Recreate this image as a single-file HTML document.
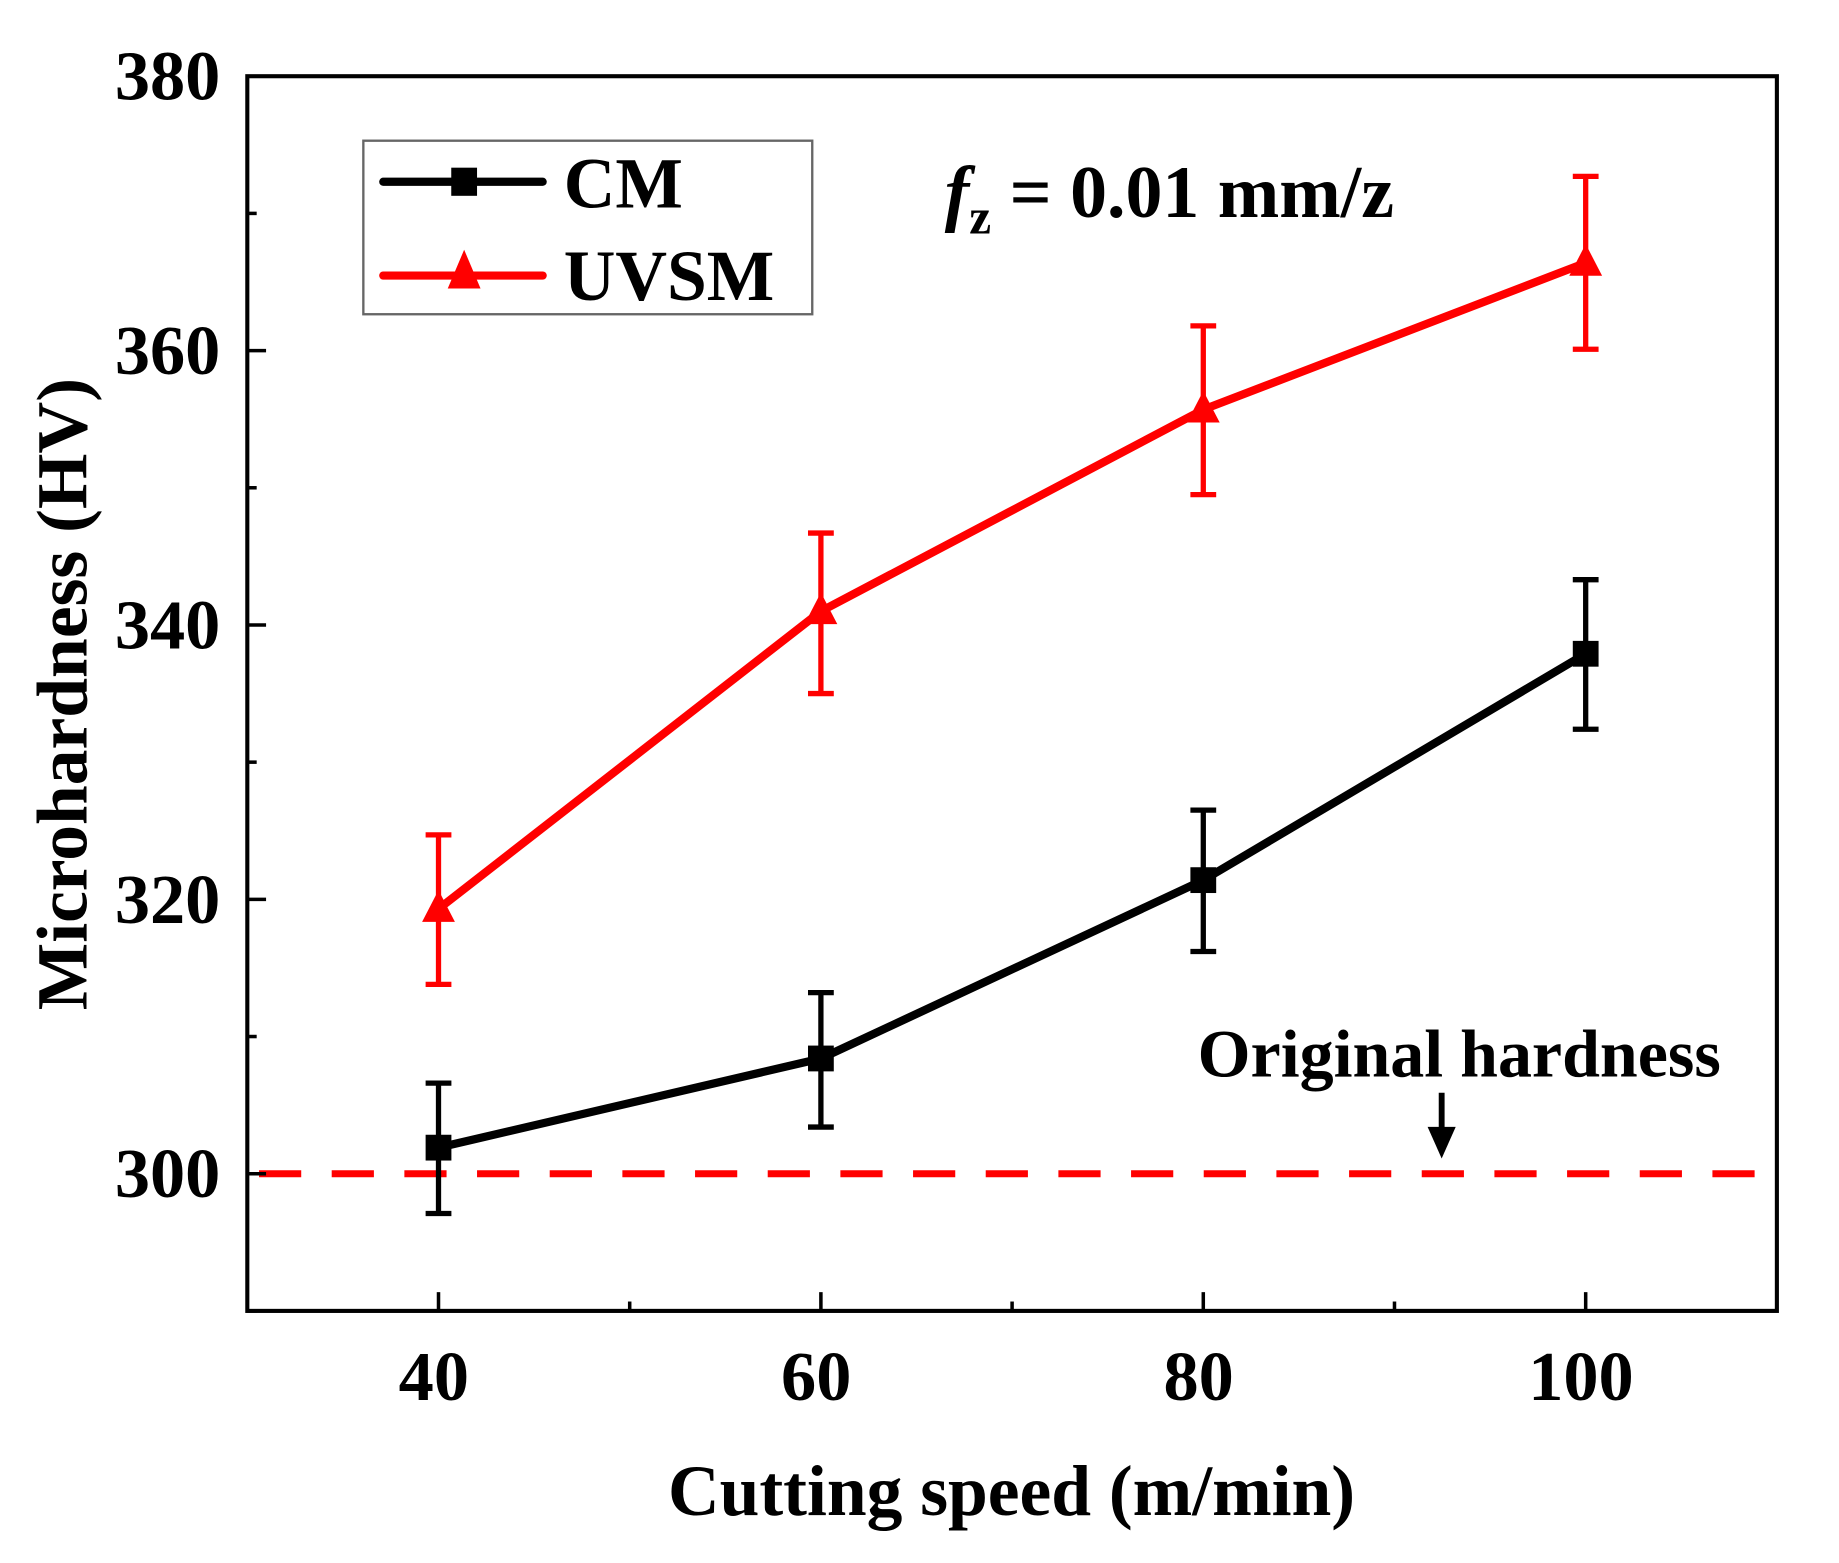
<!DOCTYPE html>
<html><head><meta charset="utf-8"><style>
html,body{margin:0;padding:0;background:#fff;}
svg{display:block;}
text{font-family:"Liberation Serif",serif;font-weight:bold;}
</style></head><body>
<svg id="chart" width="1839" height="1563" viewBox="0 0 1569 1333" preserveAspectRatio="none">
<g id="g"></g>
</svg>
<script>
const categories=[40,60,80,100];
const cmValues=[301.9,308.4,321.4,337.9];
const cmErrUp=[4.7,4.8,5.1,5.4];
const cmErrDown=[4.8,5.0,5.2,5.5];
const uvValues=[319.3,341.0,355.7,366.4];
const uvErrUp=[5.4,5.7,6.1,6.3];
const uvErrDown=[5.5,6.0,6.2,6.3];
const xTicks=[40,60,80,100];
const xMinor=[50,70,90];
const yTicks=[300,320,340,360,380];
const yMinor=[290,310,330,350,370];
const originalHardness=300;

const L=211,R=1516,T=65,B=1118;
const xs=v=>L+(v-30)/80*(R-L);
const ys=v=>B-(v-290)/90*(B-T);
const NS='http://www.w3.org/2000/svg';
const g=document.getElementById('g');
function el(tag,attrs,parent){const e=document.createElementNS(NS,tag);for(const k in attrs)e.setAttribute(k,attrs[k]);(parent||g).appendChild(e);return e;}

const ref=el('line',{x1:L+10,x2:R-14,y1:ys(originalHardness),y2:ys(originalHardness),stroke:'#ff0000','stroke-width':6,'stroke-dasharray':'36 26'});



const frame=el('rect',{x:L,y:T,width:R-L,height:B-T,fill:'none',stroke:'#000','stroke-width':3.5});



xTicks.forEach(v=>{
  const t=el('line',{x1:xs(v),x2:xs(v),y1:B,y2:B-16,stroke:'#000','stroke-width':3});
  
  
  const lb=el('text',{x:xs(v)-4,y:B+76,'text-anchor':'middle','font-size':60});
  lb.textContent=v;
  
  
});
xMinor.forEach(v=>{
  const t=el('line',{x1:xs(v),x2:xs(v),y1:B,y2:B-8,stroke:'#000','stroke-width':3});
  
  
});
yTicks.forEach(v=>{
  const t=el('line',{x1:L,x2:L+16,y1:ys(v),y2:ys(v),stroke:'#000','stroke-width':3});
  
  
  const lb=el('text',{x:L-23,y:ys(v)+20,'text-anchor':'end','font-size':60});
  lb.textContent=v;
  
  
});
yMinor.forEach(v=>{
  const t=el('line',{x1:L,x2:L+8,y1:ys(v),y2:ys(v),stroke:'#000','stroke-width':3});
  
  
});

function series(vals,up,down,color,marker,name){
  const pts=categories.map((c,i)=>xs(c)+','+ys(vals[i])).join(' ');
  const pl=el('polyline',{points:pts,fill:'none',stroke:color,'stroke-width':7,'stroke-linejoin':'round'});
  
  
  categories.forEach((c,i)=>{
    const x=xs(c),y1=ys(vals[i]+up[i]),y2=ys(vals[i]-down[i]);
    const eb=el('path',{d:`M${x},${y1}V${y2}M${x-11},${y1}H${x+11}M${x-11},${y2}H${x+11}`,stroke:color,'stroke-width':4.5,fill:'none'});
    
    
    const y=ys(vals[i]);
    let m;
    if(marker==='square') m=el('rect',{x:x-11,y:y-11,width:22,height:22,fill:color});
    else m=el('polygon',{points:`${x},${y-16} ${x-14},${y+11} ${x+14},${y+11}`,fill:color});
    
    
  });
}
series(cmValues,cmErrUp,cmErrDown,'#000','square','cm');
series(uvValues,uvErrUp,uvErrDown,'#ff0000','triangle','uvsm');
</script>
<div style="position:absolute;left:0;top:0;width:1839px;height:1563px;pointer-events:none;">
<svg width="1839" height="1563" viewBox="0 0 1569 1333" preserveAspectRatio="none">
<g>
<rect x="310" y="120" width="383" height="148" fill="#fff" stroke="#666" stroke-width="2"/>
<line x1="327" y1="155" x2="463" y2="155" stroke="#000" stroke-width="7" stroke-linecap="round"/>
<rect x="385" y="143" width="22" height="24" fill="#000"/>
<text x="481" y="177" font-size="61">CM</text>
<line x1="327" y1="235" x2="463" y2="235" stroke="#ff0000" stroke-width="7" stroke-linecap="round"/>
<polygon points="396,213 382,246 410,246" fill="#ff0000"/>
<text x="481" y="256" font-size="61">UVSM</text>
</g>
<text x="806" y="185" font-size="63"><tspan font-style="italic">f</tspan><tspan font-size="42" dy="14">z</tspan><tspan dy="-14"> = 0.01 mm/z</tspan></text>
<text x="1245" y="918" font-size="58" text-anchor="middle">Original hardness</text>
<g>
<line x1="1230" y1="932" x2="1230" y2="966" stroke="#000" stroke-width="5"/>
<polygon points="1218,961 1242,961 1230,988" fill="#000"/>
</g>
<text x="863" y="1292" font-size="61" text-anchor="middle">Cutting speed (m/min)</text>
<text transform="translate(74,592) rotate(-90)" font-size="61" text-anchor="middle">Microhardness (HV)</text>
</svg>
</div>
</body></html>
